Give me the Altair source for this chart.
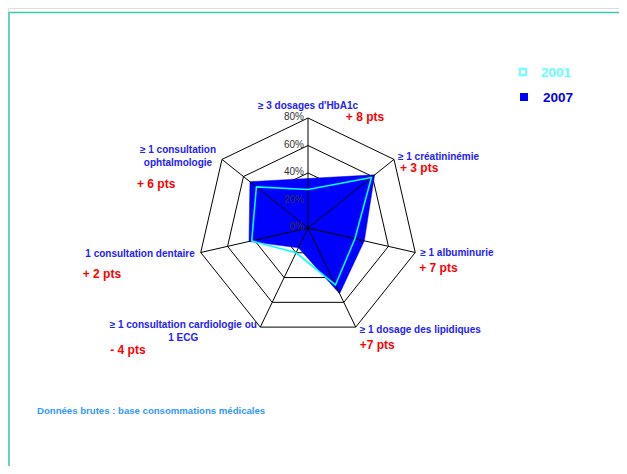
import math
import altair as alt
import pandas as pd

# ---------------- data ----------------
categories = [
    "≥ 3 dosages d'HbA1c",
    "≥ 1 créatininémie",
    "≥ 1 albuminurie",
    "≥ 1 dosage des lipidiques",
    "≥ 1 consultation cardiologie ou\n1 ECG",
    "1 consultation dentaire",
    "≥ 1 consultation\nophtalmologie",
]
values_2001 = [28, 59, 35, 46, 20, 42, 48]
values_2007 = [36, 62, 42, 53, 16, 44, 54]
changes = ["+ 8 pts", "+ 3 pts", "+ 7 pts", "+7 pts", "- 4 pts", "+ 2 pts", "+ 6 pts"]
ring_levels = [20, 40, 60, 80]
tick_levels = [0, 20, 40, 60, 80]
tick_labels = ["0%", "20%", "40%", "60%", "80%"]
series_names = ["2001", "2007"]
source_note = "Données brutes : base consommations médicales"

N = len(categories)
MAXV = 80

# ---------------- layout (pixels) ----------------
W, H = 611, 458
CX, CY = 300, 220          # centre of radar inside the view
K = 110 / MAXV             # pixels per percentage point
xs = alt.Scale(domain=[-CX / K, (W - CX) / K], nice=False, zero=False)
ys = alt.Scale(domain=[-(H - CY) / K, CY / K], nice=False, zero=False)

BLUE = "#0000FF"
CYAN = "#00FFFF"
LABEL_BLUE = "#2222FF"
RED = "#FF0000"


def with_xy(ch):
    return ch.transform_calculate(
        ang=f"2*PI*datum.idx/{N}"
    ).transform_calculate(
        px="datum.value*sin(datum.ang)", py="datum.value*cos(datum.ang)"
    )


X = alt.X("px:Q", scale=xs, axis=None)
Y = alt.Y("py:Q", scale=ys, axis=None)

# rings
ring_rows = [
    {"level": lv, "idx": i % N, "ord": i, "value": lv}
    for lv in ring_levels for i in range(N + 1)
]
rings = with_xy(alt.Chart(pd.DataFrame(ring_rows))).mark_line(
    stroke="black", strokeWidth=1
).encode(x=X, y=Y, detail="level:N", order="ord:Q")


# series polygons
def series_df(vals):
    return pd.DataFrame(
        [{"idx": i % N, "ord": i, "value": vals[i % N]} for i in range(N + 1)]
    )


fill07 = with_xy(alt.Chart(series_df(values_2007))).mark_line(
    fill=BLUE, stroke=BLUE, strokeWidth=0.5, interpolate="linear"
).encode(x=X, y=Y, order="ord:Q")

line01 = with_xy(alt.Chart(series_df(values_2001))).mark_line(
    stroke=CYAN, strokeWidth=1.6, interpolate="linear"
).encode(x=X, y=Y, order="ord:Q")

# spokes
spoke_df = pd.DataFrame({"idx": list(range(N)), "value": [MAXV] * N, "zero": [0] * N})
spokes = with_xy(alt.Chart(spoke_df)).mark_rule(stroke="black", strokeWidth=1).encode(
    x=alt.X("zero:Q", scale=xs, axis=None),
    y=alt.Y("zero:Q", scale=ys, axis=None),
    x2="px:Q",
    y2="py:Q",
)

# tick labels along the top axis
tick_df = pd.DataFrame({"idx": [0] * len(tick_levels), "value": tick_levels, "lab": tick_labels})
ticks = with_xy(alt.Chart(tick_df)).mark_text(
    align="right", baseline="middle", dx=-4, dy=-1, fontSize=10,
    font="Liberation Sans", color="#333333"
).encode(x=X, y=Y, text="lab:N")

# category labels and change labels
name_style = [
    dict(align="center", dx=0, dy=-12, baseline="middle"),
    dict(align="left", dx=4, dy=-2, baseline="middle"),
    dict(align="left", dx=5, dy=1, baseline="middle"),
    dict(align="left", dx=4, dy=3, baseline="middle"),
    dict(align="center", dx=-77, dy=-7, baseline="top"),
    dict(align="right", dx=-6, dy=2, baseline="middle"),
    dict(align="center", dx=-44, dy=-14, baseline="top"),
]
change_style = [
    dict(align="center", dx=57, dy=-1),
    dict(align="left", dx=6, dy=9),
    dict(align="left", dx=4, dy=16),
    dict(align="left", dx=4, dy=18),
    dict(align="left", dx=-150, dy=23),
    dict(align="left", dx=-118, dy=22),
    dict(align="left", dx=-85, dy=25),
]

text_layers = []
for i in range(N):
    df = pd.DataFrame({"idx": [i], "value": [MAXV], "name": [categories[i]], "chg": [changes[i]]})
    s = name_style[i]
    text_layers.append(
        with_xy(alt.Chart(df)).mark_text(
            align=s["align"], baseline=s["baseline"], dx=s["dx"], dy=s["dy"],
            fontSize=10, fontWeight="bold", font="Liberation Sans",
            color=LABEL_BLUE, lineBreak="\n", lineHeight=13,
        ).encode(x=X, y=Y, text="name:N")
    )
    c = change_style[i]
    text_layers.append(
        with_xy(alt.Chart(df)).mark_text(
            align=c["align"], baseline="middle", dx=c["dx"], dy=c["dy"],
            fontSize=12, fontWeight="bold", font="Liberation Sans", color=RED,
        ).encode(x=X, y=Y, text="chg:N")
    )

# legend (manual)
leg_df = pd.DataFrame({"s": series_names})
leg_box01 = alt.Chart(leg_df.iloc[[0]]).mark_square(
    filled=False, stroke="#33FFFF", strokeWidth=2.2, size=40
).encode(x=alt.value(515), y=alt.value(64))
leg_box07 = alt.Chart(leg_df.iloc[[1]]).mark_square(
    filled=True, color=BLUE, size=64, opacity=1
).encode(x=alt.value(516), y=alt.value(89))
leg_txt01 = alt.Chart(leg_df.iloc[[0]]).mark_text(
    align="left", baseline="middle", fontSize=13.5, fontWeight="bold",
    font="Liberation Sans", color="#66FFFF"
).encode(x=alt.value(533), y=alt.value(65), text="s:N")
leg_txt07 = alt.Chart(leg_df.iloc[[1]]).mark_text(
    align="left", baseline="middle", fontSize=13.5, fontWeight="bold",
    font="Liberation Sans", color="#0000EE"
).encode(x=alt.value(535), y=alt.value(90), text="s:N")

# frame lines
frame_df = pd.DataFrame({"a": [0]})
frame_top = alt.Chart(frame_df).mark_rule(stroke="#40C4B4", strokeWidth=1.5).encode(
    x=alt.value(1), x2=alt.value(W + 20), y=alt.value(4.5), y2=alt.value(4.5)
)
frame_left = alt.Chart(frame_df).mark_rule(stroke="#40C4B4", strokeWidth=1.5).encode(
    x=alt.value(1), x2=alt.value(1), y=alt.value(4), y2=alt.value(H + 20)
)

note = alt.Chart(pd.DataFrame({"t": [source_note]})).mark_text(
    align="left", baseline="middle", fontSize=9.6, fontWeight="bold",
    font="Liberation Sans", color="#3399FF"
).encode(x=alt.value(29), y=alt.value(403), text="t:N")

chart = alt.layer(
    rings, fill07, spokes, line01, ticks, *text_layers,
    leg_box01, leg_box07, leg_txt01, leg_txt07, frame_top, frame_left, note
).properties(
    width=W, height=H, padding=0, autosize=alt.AutoSizeParams(type="none")
).configure_view(stroke=None).configure(background="white")

chart.save("out.html", embed_options={"renderer": "svg", "actions": False})
